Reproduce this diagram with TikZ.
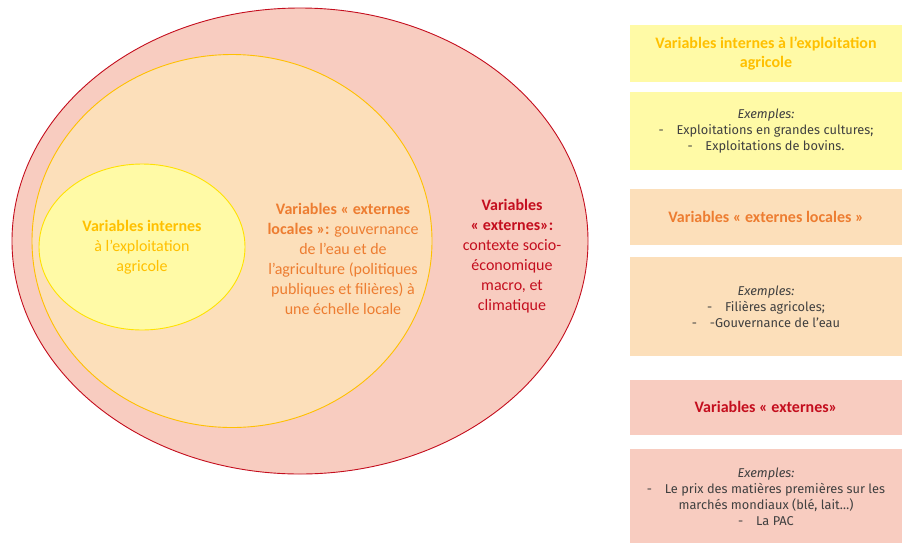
\documentclass[tikz,border=0pt]{standalone}
\usepackage{fontspec}
\setmainfont{Carlito}
\newfontfamily\exfont{Fira Sans}
\usetikzlibrary{positioning,shapes.geometric}

\definecolor{rougeV}{RGB}{196,14,30}
\definecolor{orangeV}{RGB}{237,125,49}
\definecolor{orV}{RGB}{255,192,0}
\definecolor{grisV}{RGB}{64,64,64}
\definecolor{roseF}{RGB}{248,204,192}
\definecolor{pecheF}{RGB}{252,223,186}
\definecolor{jauneF}{RGB}{255,250,166}
\definecolor{jauneB}{RGB}{255,226,0}

\tikzset{
  cercle/.style={ellipse, draw, inner sep=0pt, line width=0.9pt},
  legende/.style={align=center, font=\fontsize{16}{20}\selectfont},
  boite/.style={minimum width=272pt, inner sep=0pt, align=center},
  titre/.style={boite, font=\fontsize{16}{19}\selectfont\bfseries},
  exemple/.style={boite, text=grisV, font=\exfont\fontsize{12.8}{16}\selectfont},
}

\begin{document}
\begin{tikzpicture}[x=1pt,y=-1pt]
\useasboundingbox (0,0) rectangle (902,542);
%Ellipses
\node[cercle, draw=rougeV, fill=roseF, minimum width=576pt, minimum height=466pt] (externe) at (300,241) {};
\node[cercle, draw=orV, fill=pecheF, minimum width=400pt, minimum height=373pt] (locale) at (232,241) {};
\node[cercle, draw=jauneB, fill=jauneF, minimum width=206pt, minimum height=166pt] (interne) at (142,247) {};
\node[legende, text=orV] (txtinterne) at (142,247) {\textbf{Variables internes}\\à l’exploitation\\agricole};
\node[legende, text=orangeV] (txtlocale) at (343,259) {\textbf{Variables « externes}\\\textbf{locales »:} gouvernance\\de l’eau et de\\l’agriculture (politiques\\publiques et filières) à\\une échelle locale};
\node[legende, text=rougeV] (txtexterne) at (512,256) {\textbf{Variables}\\\textbf{« externes»:}\\contexte socio-\\économique\\macro, et\\climatique};
%Legende
\node[titre, fill=jauneF, text=orV, minimum height=57pt] (boite1) at (766,53.5) {Variables internes à l’exploitation\\agricole};
\node[exemple, fill=jauneF, minimum height=78pt, below=10pt of boite1] (boite2) {\textit{Exemples:}\\-\quad Exploitations en grandes cultures;\\-\quad Exploitations de bovins.};
\node[titre, fill=pecheF, text=orangeV, minimum height=56pt, below=18pt of boite2] (boite3) {Variables « externes locales »};
\node[exemple, fill=pecheF, minimum height=99pt, below=12pt of boite3] (boite4) {\textit{Exemples:}\\-\quad Filières agricoles;\\-\quad -Gouvernance de l’eau};
\node[titre, fill=roseF, text=rougeV, minimum height=55pt, below=23pt of boite4] (boite5) {Variables « externes»};
\node[exemple, fill=roseF, minimum height=95pt, below=14pt of boite5] (boite6) {\textit{Exemples:}\\-\quad Le prix des matières premières sur les\\marchés mondiaux (blé, lait…)\\-\quad La PAC};
\end{tikzpicture}
\end{document}
